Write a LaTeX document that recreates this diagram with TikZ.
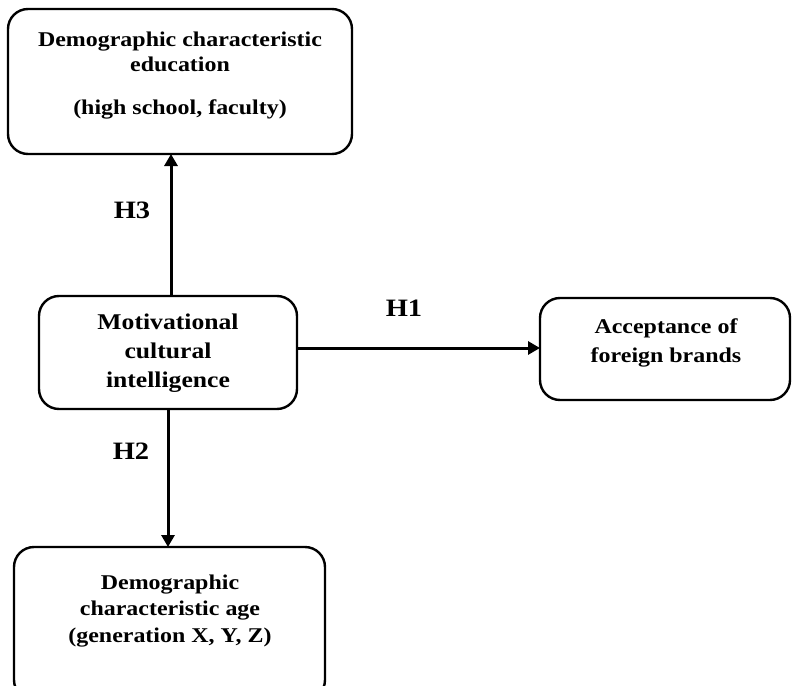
\documentclass[tikz,border=0pt]{standalone}
\usepackage{fontspec}
\setmainfont{Liberation Serif}[FakeStretch=1.14]
\usetikzlibrary{arrows.meta}
\tikzset{
  box/.style={draw=black, line width=2.4pt, rounded corners=20pt},
  txt/.style={font=\fontsize{21}{25}\selectfont\bfseries, align=center, inner sep=0pt},
  hlab/.style={font=\fontsize{25}{28}\selectfont\bfseries, inner sep=0pt},
  conn/.style={line width=3pt, -{Triangle[length=12pt,width=13pt]}}
}
\begin{document}
\begin{tikzpicture}[x=1pt,y=-1pt]
\useasboundingbox (0,0) rectangle (792,685);
\clip (0,0) rectangle (792,685);
% boxes
\draw[box] (8,9) rectangle (352,154);
\draw[box] (39,296) rectangle (297,409);
\coordinate (motT) at (171,296);
\coordinate (motR) at (297,348);
\coordinate (motB) at (168,409);
\draw[box] (540,298) rectangle (790,400);
\coordinate (acc) at (540,348);
\draw[box] (14,547) rectangle (325,700);
\coordinate (age) at (168,547);
\coordinate (eduB) at (171,154);
% texts
\node[txt] (t1) at (180,52) {Demographic characteristic\\education};
\node[txt] (t1b) at (180,109) {(high school, faculty)};
\node[txt, font=\fontsize{22.5}{29}\selectfont\bfseries] (t2) at (168,353) {Motivational\\cultural\\intelligence};
\node[txt, font=\fontsize{21}{29.5}\selectfont\bfseries] (t3) at (666,343) {Acceptance of\\foreign brands};
\node[txt, font=\fontsize{21}{26.5}\selectfont\bfseries] (t4) at (170,611) {Demographic\\characteristic age\\(generation X, Y, Z)};
% connectors
\draw[conn] (motT) -- (eduB);
\draw[conn] (motR) -- (acc);
\draw[conn] (motB) -- (age);
% labels
\node[hlab] (h3) at (132,210) {H3};
\node[hlab] (h1) at (404,308) {H1};
\node[hlab] (h2) at (131,451) {H2};
\end{tikzpicture}
\end{document}
